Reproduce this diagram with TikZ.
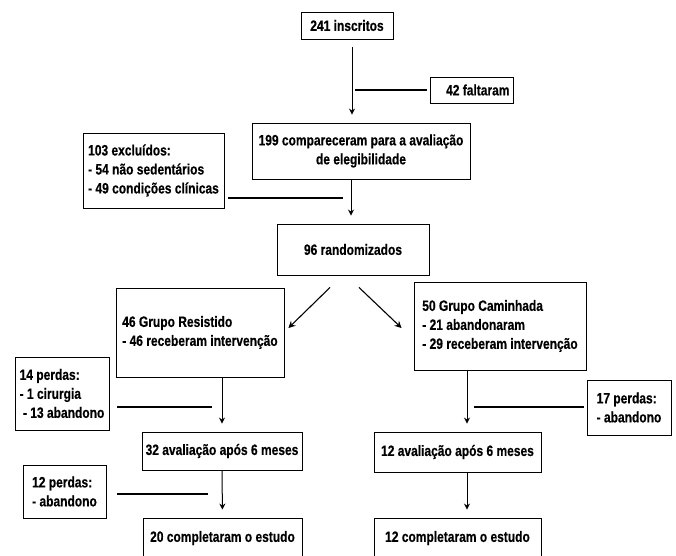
\documentclass[tikz,border=0pt]{standalone}
\usepackage{fontspec}
\setmainfont{Liberation Sans}[FakeStretch=0.8, BoldFeatures={FakeBold=0.4}]
\usepackage{tikz}
\usetikzlibrary{arrows.meta,calc}

\tikzset{
  box/.style={draw, line width=0.9pt, align=left, inner sep=0pt,
              font=\bfseries\fontsize{15}{19}\selectfont},
  arr/.style={-{Stealth[length=6pt,width=6pt]}, line width=1pt, shorten >=8pt},
  diag/.style={-{Stealth[length=7pt,width=7pt,inset=2.5pt]}, line width=1.1pt},
  loss/.style={line width=1.6pt},
}

\begin{document}
\begin{tikzpicture}[x=1pt,y=-1pt]
    \useasboundingbox (0,0) rectangle (676,555);
    \fill[white] (0,0) rectangle (676,555);
    % Recruitment and eligibility
    \node[box, align=center, minimum width=92pt, minimum height=27pt] (insc) at (347,25.5)
      {241 inscritos};
    \node[box, align=flush right, text width=76pt, inner xsep=3.5pt, minimum height=26pt] (falt) at (471.5,90)
      {42 faltaram};
    \node[box, align=center, minimum width=218pt, minimum height=56pt] (comp) at (361,151)
      {199 compareceram para a avaliação\\de elegibilidade};
    \node[box, minimum width=141pt, minimum height=75pt] (excl) at (153.5,170.5)
      {103 excluídos:\\- 54 não sedentários\\- 49 condições clínicas};
    \node[box, align=center, minimum width=152pt, minimum height=51pt] (rand) at (353,249.5)
      {96 randomizados};
    % The two groups
    \node[box, minimum width=168pt, minimum height=89pt] (resist) at (200,332.5)
      {46 Grupo Resistido\\- 46 receberam intervenção};
    \node[box, minimum width=172pt, minimum height=88pt] (camin) at (500,326)
      {50 Grupo Caminhada\\- 21 abandonaram\\- 29 receberam intervenção};
    % Losses and follow-up
    \node[box, minimum width=94pt, minimum height=73pt] (perd14) at (62,393.5)
      {14 perdas:\\- 1 cirurgia\\~- 13 abandono};
    \node[box, minimum width=84pt, minimum height=55pt] (perd17) at (629,407.5)
      {17 perdas:\\- abandono};
    \node[box, align=center, minimum width=160pt, minimum height=38pt] (aval32) at (222,451)
      {32 avaliação após 6 meses};
    \node[box, align=center, minimum width=167pt, minimum height=40pt] (aval12) at (457.5,452)
      {12 avaliação após 6 meses};
    \node[box, minimum width=83pt, minimum height=53pt] (perd12) at (64.5,491.5)
      {12 perdas:\\- abandono};
    \node[box, align=center, minimum width=159pt, minimum height=40pt] (compl20) at (222.5,538)
      {20 completaram o estudo};
    \node[box, align=center, minimum width=167pt, minimum height=40pt] (compl12) at (457.5,538)
      {12 completaram o estudo};
    % Flow arrows
    \draw[arr] ([xshift=5pt,yshift=-8pt]insc.south) -- ([xshift=-9pt]comp.north);
    \draw[arr] ([xshift=-10pt]comp.south) -- ([xshift=-2pt]rand.north);
    \draw[arr] ([xshift=22pt]resist.south) -- (aval32.north);
    \draw[arr] (aval32.south) -- (compl20.north);
    \draw[arr] ([xshift=-33pt]camin.south) -- ([xshift=9.5pt]aval12.north);
    \draw[arr] ([xshift=9.5pt]aval12.south) -- ([xshift=9.5pt]compl12.north);
    \draw[diag] ([xshift=-23pt,yshift=-12pt]rand.south) -- ([xshift=4pt,yshift=4.5pt]resist.east);
    \draw[diag] ([xshift=6pt,yshift=-12pt]rand.south) -- ([xshift=-12pt,yshift=-2pt]camin.west);
    % Loss lines towards the arrows
    \coordinate (faltend) at (355,90);
    \coordinate (exclend) at (343,198);
    \coordinate (end14) at (212,407);
    \coordinate (end12) at (208,494);
    \coordinate (end17) at (474,407);
    \foreach \src/\anc/\dst/\gap in {falt/west/faltend/-3, excl/east/exclend/4,
        perd14/east/end14/8, perd12/east/end12/11, perd17/west/end17/-3} {
      \draw[loss] (\src.\anc |- \dst) ++(\gap,0) -- (\dst);
    }
\end{tikzpicture}
\end{document}
